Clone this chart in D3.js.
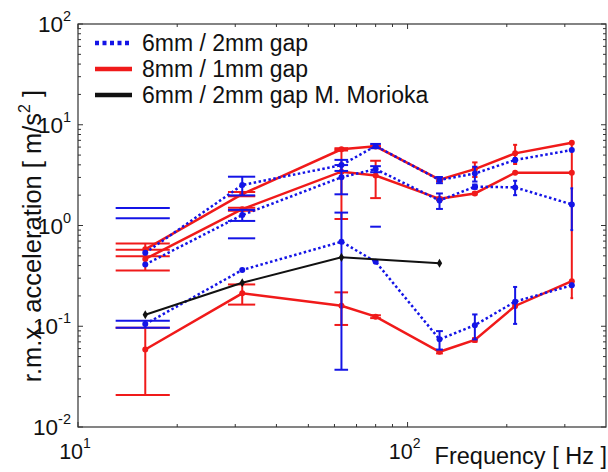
<!DOCTYPE html>
<html>
<head>
<meta charset="utf-8">
<script src="https://cdn.jsdelivr.net/npm/d3@7"></script>
<style>
  body { margin: 0; background: #fff; }
  svg text { font-family: Arial, "Liberation Sans", sans-serif; fill: #111; }
</style>
</head>
<body>
<div id="chart"></div>
<script>
// measured frequencies [Hz]
const freqs = [16, 31.5, 63, 80, 125, 160, 212, 315];
const freqsMorioka = [16, 31.5, 63, 125];

// 6mm / 2mm gap (blue dotted): value and error, three runs
const blueA = [0.535, 2.52, 3.98, 6.15, 2.83, 3.28, 4.47, 5.61];
const blueAErr = [0.955, 0.53, 0.5, 0.3, 0.2, 0.55, 0.2, 0.1];
const blueB = [0.41, 1.27, 3.01, 3.63, 1.77, 2.43, 2.39, 1.62];
const blueBErr = [0.77, 0.16, 0.97, 0.25, 0.31, 0.12, 0.39, 0.72];
const blueC = [0.105, 0.362, 0.69, 0.437, 0.0741, 0.1025, 0.1755, 0.255];
const blueCErr = [0.0085, 0.384, 0.653, 0.536, 0.0154, 0.0285, 0.07, 0.01];

// 8mm / 1mm gap (red solid)
const redA = [0.58, 2.05, 5.70, 6.1, 2.85, 3.63, 5.20, 6.63];
const redAErr = [0.084, 0.1, 0.15, 0.1, 0.1, 0.6, 1.12, 0.1];
const redB = [0.465, 1.45, 3.42, 3.13, 1.84, 2.08, 3.34, 3.34];
const redBErr = [0.108, 0.05, 2.26, 1.26, 0.05, 0.05, 0.05, 3.15];
const redC = [0.0588, 0.212, 0.160, 0.1245, 0.0558, 0.0731, 0.159, 0.280];
const redCErr = [0.038, 0.048, 0.057, 0.004, 0.002, 0.003, 0.005, 0.005];

// M. Morioka reference (black)
const morioka = [0.130, 0.270, 0.483, 0.422];

const legendNames = ['6mm / 2mm gap', '8mm / 1mm gap', '6mm / 2mm gap M. Morioka'];
const colors = {blue: '#1414e6', red: '#f01a1a', black: '#111111'};

const width = 608, height = 472;
const plot = {left: 78, right: 606, top: 24, bottom: 427};

const svg = d3.select('#chart').append('svg')
  .attr('width', width).attr('height', height);

const x = d3.scaleLog().domain([10, 400]).range([plot.left, plot.right]);
const y = d3.scaleLog().domain([0.01, 100]).range([plot.bottom, plot.top]);

// errorbar cap half width, in data units (like matlab)
const tee = (d3.max(freqs) - d3.min(freqs)) / 100;

// axis box
svg.append('rect')
  .attr('x', plot.left).attr('y', plot.top)
  .attr('width', plot.right - plot.left).attr('height', plot.bottom - plot.top)
  .attr('fill', 'none').attr('stroke', '#333').attr('stroke-width', 1.2);

// ticks on all four sides
const xMajor = [10, 100];
const xMinor = d3.range(2, 10).map(d => d * 10).concat([200, 300]);
const yMajor = [0.01, 0.1, 1, 10, 100];
const yMinor = [];
[0.01, 0.1, 1, 10].forEach(dec => d3.range(2, 10).forEach(k => yMinor.push(dec * k)));

const ticks = svg.append('g').attr('stroke', '#333').attr('stroke-width', 1);
function xTicks(vals, len) {
  vals.forEach(v => {
    ticks.append('line').attr('x1', x(v)).attr('x2', x(v)).attr('y1', plot.bottom).attr('y2', plot.bottom - len);
    ticks.append('line').attr('x1', x(v)).attr('x2', x(v)).attr('y1', plot.top).attr('y2', plot.top + len);
  });
}
function yTicks(vals, len) {
  vals.forEach(v => {
    ticks.append('line').attr('y1', y(v)).attr('y2', y(v)).attr('x1', plot.left).attr('x2', plot.left + len);
    ticks.append('line').attr('y1', y(v)).attr('y2', y(v)).attr('x1', plot.right).attr('x2', plot.right - len);
  });
}
xTicks(xMajor, 5); xTicks(xMinor, 3);
yTicks(yMajor, 5); yTicks(yMinor, 3);

// tick labels 10^n
yMajor.forEach(v => {
  const t = svg.append('text').attr('x', 71).attr('y', y(v) + 8)
    .attr('text-anchor', 'end').attr('font-size', 22.5);
  t.append('tspan').text('10');
  t.append('tspan').text(Math.round(Math.log10(v))).attr('font-size', 14.5).attr('dy', -11);
});
xMajor.forEach(v => {
  const t = svg.append('text').attr('x', x(v) - 3).attr('y', 459)
    .attr('text-anchor', 'middle').attr('font-size', 21.5);
  t.append('tspan').text('10');
  t.append('tspan').text(Math.round(Math.log10(v))).attr('font-size', 14).attr('dy', -11);
});

// axis labels
svg.append('text').attr('x', 607).attr('y', 464).attr('text-anchor', 'end')
  .attr('font-size', 23.5).text('Frequency [ Hz ]');
const yl = svg.append('text').attr('transform', `translate(41, 236) rotate(-90)`)
  .attr('text-anchor', 'middle').attr('font-size', 25.5);
yl.append('tspan').text('r.m.x. acceleration [ m/s');
yl.append('tspan').text('2').attr('font-size', 16).attr('dy', -11);
yl.append('tspan').text(' ]').attr('dy', 11);

const series = [
  {vals: redA, errs: redAErr, color: colors.red, dash: null},
  {vals: redB, errs: redBErr, color: colors.red, dash: null},
  {vals: redC, errs: redCErr, color: colors.red, dash: null},
  {vals: blueA, errs: blueAErr, color: colors.blue, dash: '2.5,2.5'},
  {vals: blueB, errs: blueBErr, color: colors.blue, dash: '2.5,2.5'},
  {vals: blueC, errs: blueCErr, color: colors.blue, dash: '2.5,2.5'},
];

const line = d3.line().x(d => x(d.f)).y(d => y(d.v));

series.forEach(s => {
  const pts = freqs.map((f, i) => ({f: f, v: s.vals[i], e: s.errs[i]}));
  const g = svg.append('g');
  // error bars: a negative lower bound on a log axis drops the stem and lower cap
  pts.forEach(d => {
    const hi = d.v + d.e, lo = d.v - d.e;
    g.append('line').attr('x1', x(d.f - tee)).attr('x2', x(d.f + tee))
      .attr('y1', y(hi)).attr('y2', y(hi))
      .attr('stroke', s.color).attr('stroke-width', 2);
    if (lo > 0) {
      g.append('line').attr('x1', x(d.f)).attr('x2', x(d.f))
        .attr('y1', y(lo)).attr('y2', y(hi))
        .attr('stroke', s.color).attr('stroke-width', 2);
      g.append('line').attr('x1', x(d.f - tee)).attr('x2', x(d.f + tee))
        .attr('y1', y(lo)).attr('y2', y(lo))
        .attr('stroke', s.color).attr('stroke-width', 2);
    }
  });
  g.append('path').datum(pts).attr('d', line)
    .attr('fill', 'none').attr('stroke', s.color).attr('stroke-width', 2.5)
    .attr('stroke-dasharray', s.dash);
  g.selectAll('circle').data(pts).join('circle')
    .attr('cx', d => x(d.f)).attr('cy', d => y(d.v)).attr('r', 3)
    .attr('fill', s.color);
});

// Morioka line
const mPts = freqsMorioka.map((f, i) => ({f: f, v: morioka[i]}));
svg.append('path').datum(mPts).attr('d', line)
  .attr('fill', 'none').attr('stroke', colors.black).attr('stroke-width', 2);
svg.selectAll('.mk').data(mPts).join('path').attr('class', 'mk')
  .attr('d', d3.symbol(d3.symbolDiamond, 24))
  .attr('transform', d => `translate(${x(d.f)},${y(d.v)})`)
  .attr('fill', colors.black);

// legend
const legend = svg.append('g').attr('transform', 'translate(95, 43)');
const legendStyles = [
  {color: colors.blue, dash: '4,3.5'},
  {color: colors.red, dash: null},
  {color: colors.black, dash: null},
];
legendNames.forEach((name, i) => {
  legend.append('line').attr('x1', 0).attr('x2', 37)
    .attr('y1', i * 26).attr('y2', i * 26)
    .attr('stroke', legendStyles[i].color).attr('stroke-width', 4.5)
    .attr('stroke-dasharray', legendStyles[i].dash);
  legend.append('text').attr('x', 47).attr('y', i * 26 + 8)
    .attr('font-size', 23).text(name);
});
</script>
</body>
</html>
